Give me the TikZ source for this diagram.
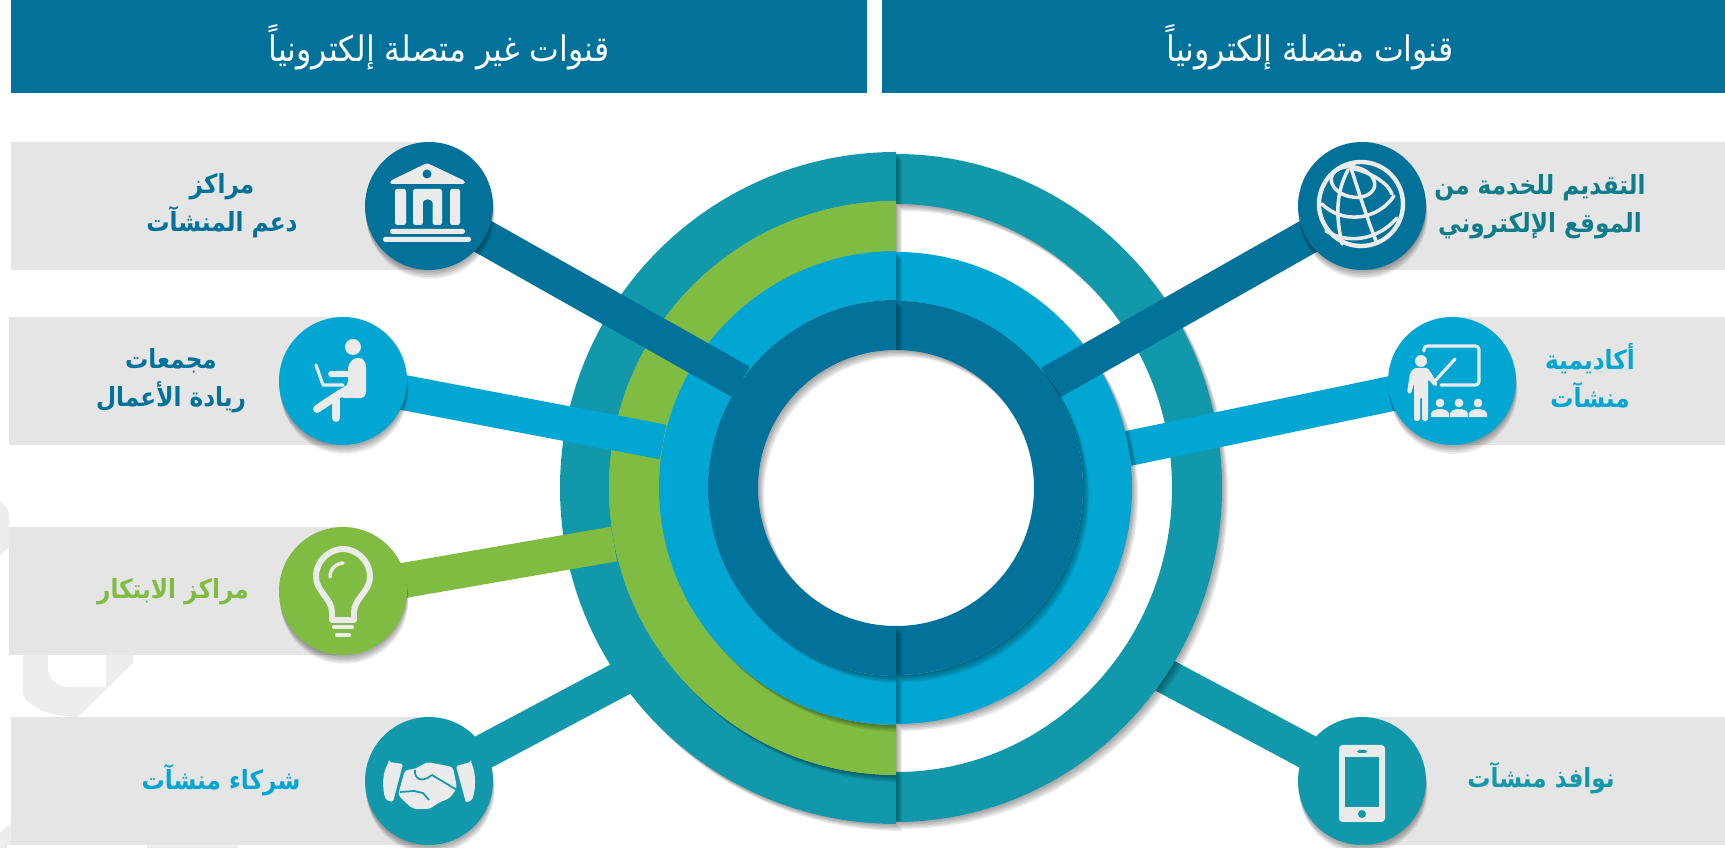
\documentclass[tikz,border=0pt]{standalone}
\usepackage{fontspec}
\usepackage{tikz}
\usetikzlibrary{positioning}
\TeXXeTstate=1
\newfontfamily\labelfont[Script=Arabic,FakeStretch=0.88]{DejaVu Sans}
\newfontfamily\headfont[Script=Arabic,FakeStretch=0.9]{DejaVu Sans}
\definecolor{darkblue}{HTML}{02729A}
\definecolor{lightblue}{HTML}{02A6D2}
\definecolor{tealring}{HTML}{1199AB}
\definecolor{greenring}{HTML}{80BC41}
\definecolor{bandgray}{HTML}{E5E5E5}
\definecolor{markgray}{HTML}{ECEEEE}
\definecolor{iconwhite}{HTML}{EBEBEB}
\definecolor{webteal}{HTML}{0F7C8A}
\pgfdeclarelayer{back}
\pgfsetlayers{back,main}
\newcommand{\ar}[1]{\beginR #1\endR}
\newcommand{\lefthalf}[2]{(c) ++(90:#1) arc (90:270:#1) -- ++(0,#1-#2) arc (270:90:#2) -- cycle}
\newcommand{\righthalf}[2]{(c) ++(90:#1) arc (90:-90:#1) -- ++(0,#1-#2) arc (-90:90:#2) -- cycle}
\begin{document}
\begin{tikzpicture}[x=0.02cm,y=0.02cm,
		layerfill/.style={preaction={fill=black,opacity=.08,transform canvas={shift={(#1)}}}},
		layerline/.style={preaction={draw=black,opacity=.08,transform canvas={shift={(#1)}}}},
		softfill/.style={layerfill={3.5pt,-4pt},layerfill={2.8pt,-3.2pt},layerfill={2.1pt,-2.4pt},layerfill={1.4pt,-1.6pt},layerfill={.7pt,-.8pt}},
		softline/.style={layerline={1pt,-5pt},layerline={.8pt,-4pt},layerline={.6pt,-3pt},layerline={.4pt,-2pt},layerline={.2pt,-1pt}},
		softhub/.style={layerfill={.8pt,-5pt},layerfill={.6pt,-4pt},layerfill={.4pt,-3pt},layerfill={.2pt,-2pt},layerfill={.1pt,-1pt}},
		hub/.style={circle,minimum size=2.56cm,inner sep=0pt,softhub,fill=#1},
		bar/.style={line width=20pt,softline,draw=#1},
		ring/.style={softfill,fill=#1,even odd rule},
		label/.style={font=\labelfont\bfseries\fontsize{15}{21.5}\selectfont,align=center,text=#1,inner sep=0pt},
		head/.style={fill=darkblue,text=white,inner sep=0pt,minimum height=1.86cm,font=\headfont\fontsize{20}{24}\selectfont},
		icon/.style={fill=iconwhite,draw=none},
		iconline/.style={draw=iconwhite,line width=#1,line cap=round,line join=round}]
	\useasboundingbox (0,0) rectangle (1725,848);
	\coordinate (c) at (896,360);
	\node [head,minimum width=17.12cm] (t1) at (439,801) {\ar{قنوات غير متصلة إلكترونياً}};
	\node [head,minimum width=16.86cm] (t2) at (1303.5,801) {\hspace{7.4pt}\ar{قنوات متصلة إلكترونياً}};
	\node [hub=darkblue] (1) at (429,642) {};
	\node [hub=lightblue] (2) at (343,467) {};
	\node [hub=greenring] (3) at (343,257) {};
	\node [hub=tealring] (4) at (429,67) {};
	\node [hub=darkblue] (5) at (1362,642) {};
	\node [hub=lightblue] (6) at (1452,467) {};
	\node [hub=tealring] (7) at (1362,67) {};
	\coordinate (e1) at (741,466);
	\coordinate (e2) at (663,406);
	\coordinate (e3) at (614,304);
	\coordinate (e4) at (630,174);
	\coordinate (e5) at (1050,465);
	\coordinate (e6) at (1128,399.5);
	\coordinate (e7) at (1154,178);
	\node [label=darkblue] (l1) at (222,642) {\ar{مراكز}\\\ar{دعم المنشآت}};
	\node [label=darkblue] (l2) at (171,467) {\ar{مجمعات}\\\ar{ريادة الأعمال}};
	\node [label=greenring] (l3) at (173,256) {\ar{مراكز الابتكار}};
	\node [label=lightblue] (l4) at (221,68) {\ar{شركاء منشآت}};
	\node [label=webteal] (l5) at (1540,641) {\ar{التقديم للخدمة من}\\\ar{الموقع الإلكتروني}};
	\node [label=lightblue] (l6) at (1590,472) {\ar{أكاديمية}\\\ar{منشآت}};
	\node [label=tealring] (l7) at (1541,70) {\ar{نوافذ منشآت}};
	\begin{pgfonlayer}{back}
		\fill [markgray] (0,346) .. controls (5,344) and (9,340) .. (9,331) -- (9,301) -- (0,292) -- cycle;
		\fill [markgray] (23,193) -- (23,155) .. controls (25,142) and (50,131) .. (78,131) -- (133,185) -- (133,193) -- (106,193) -- (106,161) -- (67,161) .. controls (55,163) and (48,170) .. (48,181) -- (48,193) -- cycle;
		\fill [markgray] (0,0) -- (0,16) -- (11,25) -- (11,3) -- (7,3) -- (7,0) -- cycle;
		\fill [markgray] (147,0) rectangle (238,3);
		\fill [bandgray] (11,578) rectangle (429,706);
		\fill [bandgray] (9,403) rectangle (343,531);
		\fill [bandgray] (9,193) rectangle (343,321);
		\fill [bandgray] (11,3) rectangle (429,131);
		\fill [bandgray] (1362,578) rectangle (1725,706);
		\fill [bandgray] (1452,403) rectangle (1725,531);
		\fill [bandgray] (1362,3) rectangle (1725,131);
		\draw [bar=tealring] (4.center) to (e4);
		\draw [bar=tealring] (7.center) to (e7);
		\fill [ring=tealring] (c) ++(0,334) arc [start angle=90,end angle=-90,x radius=326,y radius=334] -- ++(0,50) arc [start angle=-90,end angle=90,x radius=276,y radius=284] -- cycle;
		\fill [ring=tealring] \lefthalf{336}{287};
		\fill [ring=greenring] \lefthalf{287}{237};
		\draw [bar=greenring] (3.center) to (e3);
		\draw [bar=lightblue] (2.center) to (e2);
		\draw [bar=lightblue] (6.center) to (e6);
		\fill [ring=lightblue] \righthalf{236}{187};
		\fill [ring=lightblue] \lefthalf{237}{188};
		\draw [bar=darkblue] (1.center) to (e1);
		\draw [bar=darkblue] (5.center) to (e5);
		\fill [ring=darkblue] \righthalf{187}{138};
		\fill [ring=darkblue] \lefthalf{188}{138};
	\end{pgfonlayer}
	\begin{scope}[shift={(1.center)}]
		\fill [icon,rounded corners=1pt] (-2,43) -- (36,25) -- (36,22) -- (-39,22) -- (-39,25) -- cycle;
		\fill [darkblue] (-2,32) circle (4.5);
		\fill [icon,rounded corners=1pt] (-34,17) rectangle (-23,-19);
		\fill [icon,rounded corners=1pt] (21,17) rectangle (31,-19);
		\fill [icon,rounded corners=1pt] (-16,17) -- (13,17) -- (13,-19) -- (3.5,-19) -- (3.5,2) arc (0:180:4.8) -- (-6,-19) -- (-16,-19) -- cycle;
		\fill [icon,rounded corners=1pt] (-39,-23) rectangle (36,-28);
		\fill [icon,rounded corners=1pt] (-46,-31) rectangle (42,-36);
	\end{scope}
	\begin{scope}[shift={(2.center)}]
		\fill [icon] (10,34) circle (8);
		\fill [icon,rounded corners=3pt] (5,17) -- (14,25) -- (23,20) -- (23,-17) -- (-4,-17) -- (-4,-6) -- (5,-6) -- cycle;
		\draw [iconline=3.2pt] (-12,7) -- (6,7);
		\draw [iconline=1.8pt] (-27,16) -- (-20,-4) -- (0,-4);
		\draw [iconline=4.5pt] (-2,-12) -- (-26,-28);
		\draw [iconline=4.5pt] (-7,-17) -- (-7,-37);
	\end{scope}
	\begin{scope}[shift={(3.center)}]
		\draw [iconline=3.4pt] (-11,-29) -- (-11,-21) .. controls (-11,-8) and (-27,0) .. (-27,14) .. controls (-27,31) and (-13,42) .. (0,42) .. controls (13,42) and (27,31) .. (27,14) .. controls (27,0) and (11,-8) .. (11,-21) -- (11,-29) -- cycle;
		\draw [iconline=2pt] (-13,14) .. controls (-13,22) and (-8,27) .. (0,28);
		\draw [iconline=2.4pt] (-9,-36) -- (9,-36);
		\draw [iconline=2.4pt] (-6,-44) -- (6,-44);
	\end{scope}
	\begin{scope}[shift={(4.center)}]
		\fill [icon,rounded corners=1pt] (-40,19) -- (-26,17) -- (-36,-21) -- (-43,-19) .. controls (-47,-8) and (-47,8) .. cycle;
		\fill [icon,rounded corners=1pt] (42,19) -- (27,15) -- (37,-22) -- (43,-19) .. controls (47,-8) and (47,8) .. cycle;
		\fill [icon,rounded corners=2pt] (-14,12) -- (-2,19) -- (24,14) -- (28,-7) -- (21,-17) -- (9,-22) -- (1,-28) -- (-16,-28) -- (-24,-21) -- (-31,-14) -- (-24,11) -- cycle;
		\draw [draw=tealring,line width=1pt,line join=round] (-14,11) .. controls (-15,3) and (-8,-3) .. (3,6) -- (28,-9);
		\draw [draw=tealring,line width=1pt,line join=round] (-29,-11) -- (-15,-10) -- (-6,-12) -- (0,-19);
	\end{scope}
	\begin{scope}[shift={(5.center)}]
		\draw [iconline=2.5pt] (-1,2) circle (42);
		\draw [iconline=2pt,rotate around={-12:(-9,24)}] (-9,24) ellipse (22 and 15);
		\draw [iconline=2pt] (-40,2) .. controls (-20,-18) and (15,-15) .. (32,10);
		\draw [iconline=2pt] (-36,-25) .. controls (-15,-38) and (15,-35) .. (35,-12);
		\draw [iconline=2pt] (-11,38) .. controls (-2,10) and (6,-15) .. (14,-35);
		\draw [iconline=2pt] (-14,36) .. controls (-28,10) and (-25,-15) .. (-20,-38);
		\draw [iconline=2pt] (-12,38) .. controls (5,35) and (25,25) .. (30,12);
	\end{scope}
	\begin{scope}[shift={(6.center)}]
		\draw [iconline=1.8pt,rounded corners=2pt] (-28,30) -- (-28,35) -- (27,35) -- (27,-4) -- (-11,-4);
		\draw [iconline=1.8pt] (-16,1) -- (3,22);
		\fill [icon] (-31,20) circle (6);
		\fill [icon,rounded corners=1pt] (-38,13) -- (-24,13) -- (-14,-3) -- (-17,-6) -- (-24,2) -- (-24,-40) -- (-30,-40) -- (-30,-16) -- (-32,-16) -- (-32,-40) -- (-38,-40) -- (-38,-2) -- (-41,-13) -- (-45,-12) -- (-42,8) -- cycle;
		\foreach \i in {-12,7,26}
			{\fill [icon] (\i,-22) circle (4.4);
			\fill [icon] (\i-9,-36) -- (\i-9,-33) arc (180:0:9 and 5) -- (\i+9,-36) -- cycle;}
	\end{scope}
	\begin{scope}[shift={(7.center)}]
		\fill [icon,rounded corners=2pt] (-23,36) rectangle (23,-41);
		\fill [tealring] (-17,24) rectangle (17,-26);
		\fill [tealring,rounded corners=1pt] (-5,31) rectangle (5,28);
		\fill [tealring] (0,-33) circle (4);
	\end{scope}
\end{tikzpicture}
\end{document}
